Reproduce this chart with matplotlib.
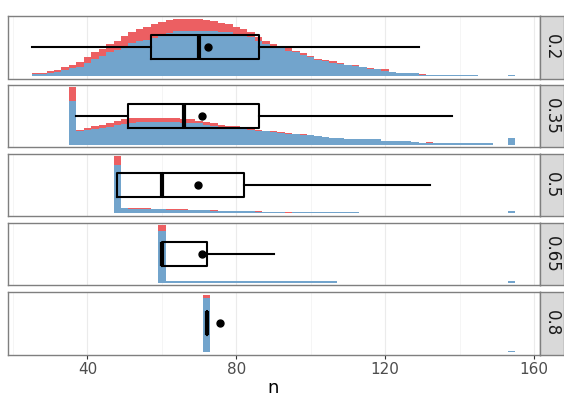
import numpy as np
import matplotlib.pyplot as plt

# facet levels (one row each)
levels = ['0.2', '0.35', '0.5', '0.65', '0.8']

# histogram bins: width 2, first bin edge per level; counts per bin (blue on the bottom, red stacked on top)
bin_width = 2
first_edge = [25, 35, 47, 59, 71]

blue_counts = [
    # 0.2
    [3, 3, 5, 6, 10, 13, 16, 22, 29, 34, 41, 45, 51, 57, 60, 62, 66, 71, 75, 78,
     78, 79, 79, 79, 78, 77, 76, 73, 70, 67, 60, 56, 50, 48, 44, 41, 37, 32, 28, 25,
     23, 21, 19, 17, 15, 12, 11, 9, 7, 5, 4, 4, 2, 2, 2, 1, 1, 1, 1, 1,
     0, 0, 0, 0, 2],
    # 0.35
    [77, 23, 25, 27, 29, 31, 34, 36, 38, 39, 39, 39, 39, 39, 39, 38, 38, 37, 35, 33,
     31, 30, 30, 30, 25, 23, 23, 22, 20, 19, 18, 17, 16, 15, 13, 12, 12, 10, 10, 9,
     9, 9, 7, 6, 6, 6, 4, 3, 3, 2, 2, 2, 2, 2, 2, 2, 2, 0, 0, 12],
    # 0.5
    [84, 9, 8, 7, 7, 8, 8, 6, 6, 6, 6, 6, 6, 5, 4, 5, 5, 5, 4, 3,
     3, 3, 3, 1, 2, 2, 2, 2, 2, 2, 2, 2, 2, 1, 1, 1, 1, 1, 1, 1,
     1, 1, 1, 1, 1, 1, 1, 1, 1, 1, 1, 1, 1, 5],
    # 0.65
    [91, 2, 2, 2, 2, 2, 2, 2, 2, 2, 2, 2, 2, 2, 2, 2, 2, 2, 2, 2,
     2, 2, 2, 2, 0, 0, 0, 0, 0, 0, 0, 0, 0, 0, 0, 0, 0, 0, 0, 0,
     0, 0, 0, 0, 0, 0, 0, 2],
    # 0.8
    [95, 0, 0, 0, 0, 0, 0, 0, 0, 0, 0, 0, 0, 0, 0, 0, 0, 0, 0, 0,
     0, 0, 0, 0, 0, 0, 0, 0, 0, 0, 0, 0, 0, 0, 0, 0, 0, 0, 0, 0,
     0, 1],
]

red_counts = [
    # 0.2
    [1, 2, 3, 4, 5, 6, 8, 10, 12, 13, 14, 16, 18, 19, 21, 24, 24, 23, 23, 22,
     22, 21, 20, 19, 17, 16, 14, 13, 11, 9, 7, 5, 5, 4, 4, 3, 3, 2, 2, 3,
     2, 1, 0, 2, 0, 1, 1, 2, 0, 0, 0, 0, 1, 0, 0, 0, 0, 0, 0, 0,
     0, 0, 0, 0, 0],
    # 0.35
    [23, 3, 4, 5, 6, 7, 7, 8, 8, 8, 8, 8, 8, 7, 7, 7, 6, 5, 5, 4,
     3, 3, 2, 1, 2, 2, 1, 1, 2, 1, 0, 1, 1, 0, 0, 0, 0, 0, 0, 0,
     0, 0, 0, 0, 0, 0, 0, 0, 1, 1, 0, 0, 0, 0, 0, 0, 0, 0, 0, 0],
    # 0.5
    [16, 0, 1, 2, 2, 0, 0, 2, 2, 1, 0, 0, 0, 1, 1, 0, 0, 0, 1, 1,
     0, 0, 0, 2, 0, 0, 0, 0, 0, 0, 0, 0, 1, 0, 0, 0, 0, 0, 0, 0,
     0, 0, 0, 0, 0, 0, 0, 0, 0, 0, 0, 0, 0, 0],
    # 0.65
    [9, 1, 0, 0, 0, 0, 0, 1, 0, 0, 0, 0, 0, 0, 0, 0, 0, 0, 0, 0,
     0, 0, 0, 0, 0, 0, 0, 0, 0, 0, 0, 0, 0, 0, 0, 0, 0, 0, 0, 0,
     0, 0, 0, 0, 0, 0, 0, 0],
    # 0.8
    [5, 0, 0, 0, 0, 0, 0, 0, 0, 0, 0, 0, 0, 0, 0, 0, 0, 0, 0, 0,
     0, 0, 0, 0, 0, 0, 0, 0, 0, 0, 0, 0, 0, 0, 0, 0, 0, 0, 0, 0,
     0, 0],
]

# boxplot summaries of n per level
whisker_lo = [25, 37, 48, 60, 72]
q1 = [57, 51, 48, 60, 72]
medians = [70, 66, 60, 60, 72]
q3 = [86, 86, 82, 72, 72]
whisker_hi = [129, 138, 132, 90, 72]
means = [72.5, 70.7, 69.7, 70.7, 75.6]

x_ticks = [40, 80, 120, 160]

red = '#EC5F62'
blue = '#72A4CC'

fig = plt.figure(figsize=(5.64, 3.98), dpi=100)
W, H = 564.0, 398.0
panel_left, panel_right = 7.5, 539.5
panel_h = 62.8
panel_tops = [15.7, 84.6, 153.5, 222.6, 291.8]

for i, lev in enumerate(levels):
    top = panel_tops[i]
    ax = fig.add_axes([panel_left / W, 1 - (top + panel_h) / H,
                       (panel_right - panel_left) / W, panel_h / H])
    blu = np.array(blue_counts[i], dtype=float)
    tot = blu + np.array(red_counts[i], dtype=float)
    edges = first_edge[i] + bin_width * np.arange(len(blu) + 1)
    ax.stairs(blu, edges, fill=True, color=blue, lw=0)
    ax.stairs(tot, edges, baseline=blu, fill=True, color=red, lw=0)

    ymax = tot.max()
    stats = [dict(whislo=whisker_lo[i], q1=q1[i], med=medians[i], q3=q3[i],
                  whishi=whisker_hi[i], mean=means[i], fliers=[])]
    ax.bxp(stats, positions=[0.5 * ymax], widths=0.42 * ymax,
           orientation='horizontal', showmeans=True, showfliers=False,
           showcaps=False, manage_ticks=False,
           boxprops=dict(color='black', lw=1.5),
           whiskerprops=dict(color='black', lw=1.5),
           medianprops=dict(color='black', lw=3, solid_capstyle='butt'),
           meanprops=dict(marker='o', markerfacecolor='black',
                          markeredgecolor='black', markersize=5))

    ax.set_xlim(18.5, 161.5)
    ax.set_ylim(-0.05 * ymax, 1.05 * ymax)
    ax.set_yticks([])
    ax.set_xticks(x_ticks)
    ax.set_xticks([20, 60, 100, 140], minor=True)
    ax.grid(True, axis='x', which='major', color='#EBEBEB', lw=0.8)
    ax.grid(True, axis='x', which='minor', color='#F2F2F2', lw=0.5)
    ax.set_axisbelow(True)
    for s in ax.spines.values():
        s.set_color('#7F7F7F')
        s.set_linewidth(1.0)
    ax.tick_params(axis='x', which='minor', length=0)
    if i < len(levels) - 1:
        ax.tick_params(axis='x', which='major', length=0, labelbottom=False)
    else:
        ax.tick_params(axis='x', which='major', length=3, width=0.8,
                       color='#333333', labelsize=11, labelcolor='#4D4D4D', pad=2)
        ax.set_xlabel('n', fontsize=13, labelpad=2)

    # facet strip on the right
    sax = fig.add_axes([panel_right / W, 1 - (top + panel_h) / H,
                        (563.5 - panel_right) / W, panel_h / H])
    sax.set_facecolor('#D9D9D9')
    sax.set_xticks([])
    sax.set_yticks([])
    for s in sax.spines.values():
        s.set_color('#7F7F7F')
        s.set_linewidth(1.0)
    sax.text(0.5, 0.5, lev, rotation=-90, ha='center', va='center',
             fontsize=12, color='#1A1A1A', transform=sax.transAxes)

fig.savefig('out.png', dpi=100)
